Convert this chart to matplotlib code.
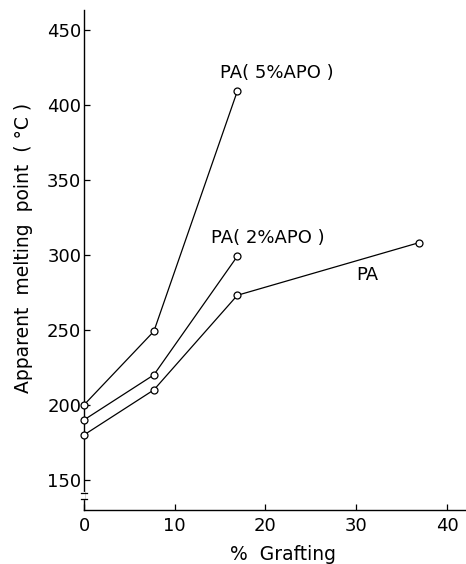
import matplotlib
matplotlib.use("Agg")
import matplotlib.pyplot as plt

# data
grafting_5 = [0, 7.7, 16.9]
melt_5 = [200, 249, 409]
grafting_2 = [0, 7.7, 16.9]
melt_2 = [190, 220, 299]
grafting_pa = [0, 7.7, 16.9, 36.9]
melt_pa = [180, 210, 273, 308]
x_ticks = [0, 10, 20, 30, 40]
y_ticks = [150, 200, 250, 300, 350, 400, 450]

plt.rcParams['font.family'] = ['DejaVu Sans']
fig = plt.figure(figsize=(4.66, 5.64), dpi=100)
ax = fig.add_axes([84 / 466, 1 - 510 / 564, (466 - 84) / 466, 500 / 564])

for xs, ys in [(grafting_5, melt_5), (grafting_2, melt_2), (grafting_pa, melt_pa)]:
    ax.plot(xs, ys, color="black", lw=0.9, marker="o", ms=5,
            mfc="white", mec="black", mew=0.9, clip_on=False, zorder=3)

ax.text(21.3, 415, "PA( 5%APO )", ha="center", va="bottom", fontsize=13)
ax.text(20.3, 305, "PA( 2%APO )", ha="center", va="bottom", fontsize=13)
ax.text(31.2, 286.5, "PA", ha="center", va="center", fontsize=13)

ax.set_xlim(0, 42.1)
ax.set_ylim(130, 463)
ax.set_xticks(x_ticks)
ax.set_yticks(y_ticks)
ax.tick_params(direction="in", length=4, width=0.9, labelsize=13)
ax.tick_params(axis="y", pad=2)
ax.tick_params(axis="x", pad=5)
for s in ["top", "right"]:
    ax.spines[s].set_visible(False)
for s in ["left", "bottom"]:
    ax.spines[s].set_linewidth(1.0)

# axis break mark on y axis
ax.plot([-0.35, 0.35], [137.5, 137.5], color="black", lw=0.9, clip_on=False, zorder=5)
ax.plot([-0.35, 0.35], [141.5, 141.5], color="black", lw=0.9, clip_on=False, zorder=5)
ax.plot([0, 0], [137.5, 141.5], color="white", lw=1.6, clip_on=False, zorder=4)

ax.set_xlabel("%  Grafting", fontsize=13.5)
ax.xaxis.set_label_coords(0.521, -0.07)
ax.xaxis.label.set_va("top")
ax.set_ylabel("Apparent  melting  point  ( °C )", fontsize=13.5)
ax.yaxis.set_label_coords(-0.134, 0.524)

fig.savefig("out.png", dpi=100)
